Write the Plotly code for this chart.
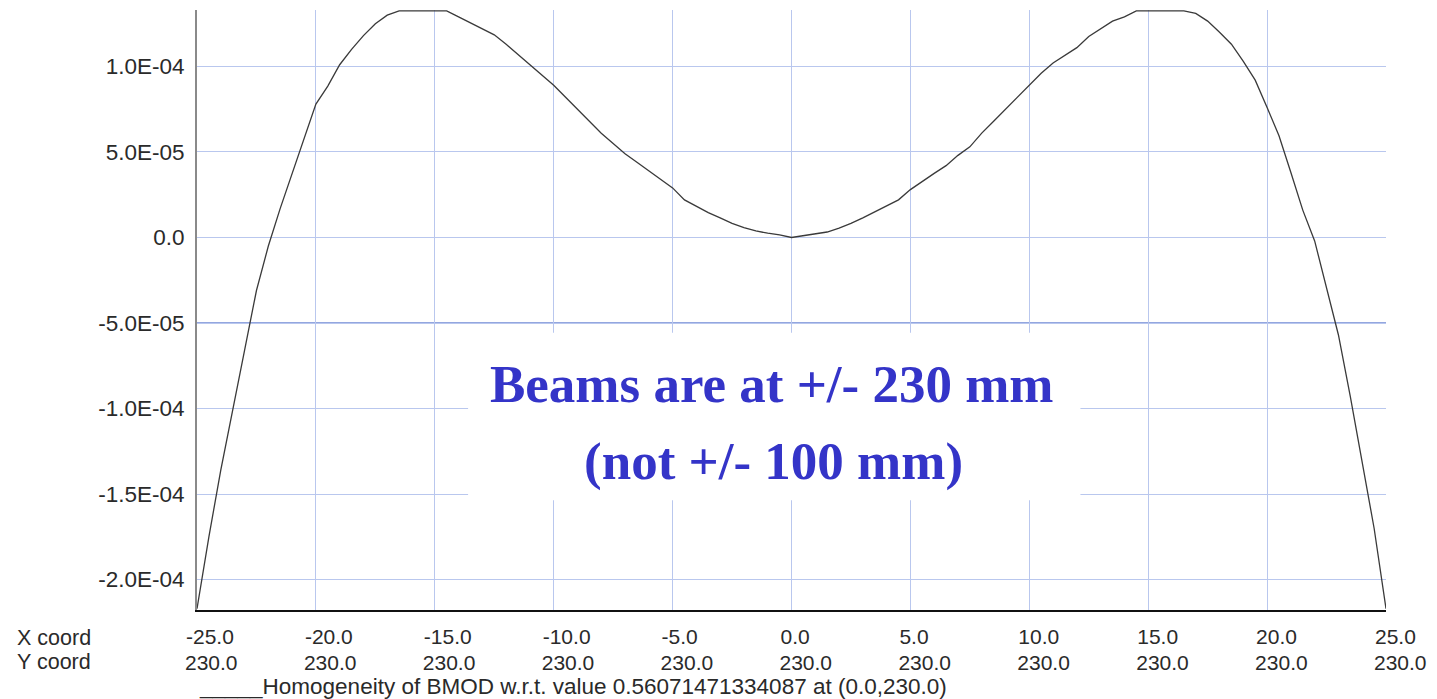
import plotly.graph_objects as go

# ---- data ----
x_pos = [-25, -24.5, -24, -23.5, -23, -22.5, -22, -21.5, -21, -20.5, -20, -19.5, -19, -18.5, -18,
         -17.5, -17, -16.5, -16, -15.5, -15, -14.5, -14, -13.5, -13, -12.5, -12, -11.5, -11, -10.5,
         -10, -9.5, -9, -8.5, -8, -7.5, -7, -6.5, -6, -5.5, -5, -4.5, -4, -3.5, -3, -2.5, -2, -1.5,
         -1, -0.5, 0, 0.5, 1, 1.5, 2, 2.5, 3, 3.5, 4, 4.5, 5, 5.5, 6, 6.5, 7, 7.5, 8, 8.5, 9, 9.5,
         10, 10.5, 11, 11.5, 12, 12.5, 13, 13.5, 14, 14.5, 15, 15.5, 16, 16.5, 17, 17.5, 18, 18.5,
         19, 19.5, 20, 20.5, 21, 21.5, 22, 22.5, 23, 23.5, 24, 24.5, 25]
homogeneity = [-2.17e-4, -1.75e-4, -1.36e-4, -1.0e-4, -6.6e-5, -3.1e-5, -5e-6, 1.7e-5, 3.75e-5, 5.8e-5,
               7.8e-5, 8.85e-5, 1.01e-4, 1.1e-4, 1.18e-4, 1.25e-4, 1.30e-4, 1.325e-4, 1.325e-4, 1.325e-4,
               1.325e-4, 1.325e-4, 1.29e-4, 1.255e-4, 1.22e-4, 1.185e-4, 1.13e-4, 1.07e-4, 1.01e-4, 9.5e-5,
               8.9e-5, 8.2e-5, 7.5e-5, 6.8e-5, 6.1e-5, 5.5e-5, 4.9e-5, 4.4e-5, 3.9e-5, 3.45e-5,
               2.9e-5, 2.2e-5, 1.8e-5, 1.45e-5, 1.15e-5, 8.2e-6, 5.8e-6, 3.8e-6, 2.5e-6, 1.5e-6,
               0.0, 1.2e-6, 2.0e-6, 3.2e-6, 5.5e-6, 8.2e-6, 1.15e-5, 1.5e-5, 1.85e-5, 2.2e-5,
               2.8e-5, 3.3e-5, 3.75e-5, 4.2e-5, 4.8e-5, 5.3e-5, 6.1e-5, 6.8e-5, 7.5e-5, 8.2e-5,
               8.9e-5, 9.6e-5, 1.02e-4, 1.065e-4, 1.11e-4, 1.175e-4, 1.22e-4, 1.265e-4, 1.29e-4, 1.325e-4,
               1.325e-4, 1.325e-4, 1.325e-4, 1.325e-4, 1.31e-4, 1.265e-4, 1.2e-4, 1.13e-4,
               1.03e-4, 9.2e-5, 7.6e-5, 5.95e-5, 3.8e-5, 1.6e-5, -2e-6, -3.0e-5, -5.7e-5, -9.3e-5,
               -1.31e-4, -1.7e-4, -2.17e-4]

x_ticks = [-25, -20, -15, -10, -5, 0, 5, 10, 15, 20, 25]
x_tick_text = ["-25.0", "-20.0", "-15.0", "-10.0", "-5.0", "0.0", "5.0", "10.0", "15.0", "20.0", "25.0"]
y_coord_text = ["230.0"] * 11
y_ticks = [1e-4, 5e-5, 0, -5e-5, -1e-4, -1.5e-4, -2e-4]
y_tick_text = ["1.0E-04", "5.0E-05", "0.0", "-5.0E-05", "-1.0E-04", "-1.5E-04", "-2.0E-04"]
highlight_level = -5e-5

series_label = "Homogeneity of BMOD w.r.t. value 0.56071471334087 at (0.0,230.0)"
note_line1 = "Beams are at +/- 230 mm"
note_line2 = "(not +/- 100 mm)"

X_RANGE = [-25, 25]
Y_RANGE = [-2.178e-4, 1.330e-4]
GRID = "#B9C7EE"
SANS = "Liberation Sans, Arial, sans-serif"
TICK_FONT = dict(family=SANS, size=22.5, color="#2a2a2a")
ROW_FONT = dict(family=SANS, size=21, color="#2a2a2a")
CAPTION_FONT = dict(family=SANS, size=21.5, color="#2a2a2a")
LABEL_FONT = dict(family=SANS, size=22.5, color="#2a2a2a")

fig = go.Figure()
fig.add_trace(go.Scatter(x=x_pos, y=homogeneity, mode="lines",
                         line=dict(color="#3a3a3a", width=1.3), name=series_label,
                         showlegend=False))
# helper trace so the second x-axis (Y coord row) is drawn
fig.add_trace(go.Scatter(x=x_ticks, y=[None] * len(x_ticks), xaxis="x2", mode="lines",
                         showlegend=False, hoverinfo="skip"))

fig.update_layout(
    width=1437, height=699,
    margin=dict(l=197, r=51, t=10, b=89),
    paper_bgcolor="white", plot_bgcolor="white",
    xaxis=dict(range=X_RANGE, tickvals=x_ticks, ticktext=x_tick_text,
               showgrid=True, gridcolor=GRID, gridwidth=1.3, zeroline=False,
               showline=True, linecolor="#111", linewidth=2, ticks="",
               ticklabelposition="outside right", ticklabelshift=-12,
               ticklabelstandoff=7, tickfont=ROW_FONT),
    xaxis2=dict(range=X_RANGE, overlaying="x", side="bottom", anchor="y",
                tickvals=x_ticks, ticktext=y_coord_text, showgrid=False,
                zeroline=False, showline=False, ticks="",
                ticklabelposition="outside right", ticklabelshift=-12,
                ticklabelstandoff=38, tickfont=ROW_FONT),
    yaxis=dict(range=Y_RANGE, tickvals=y_ticks, ticktext=y_tick_text,
               showgrid=True, gridcolor=GRID, gridwidth=1.3, zeroline=False,
               showline=True, linecolor="#8a8a8a", linewidth=2, ticks="",
               ticklabelstandoff=6, tickfont=TICK_FONT),
)

fig.add_shape(type="line", xref="paper", x0=0, x1=1, yref="y", y0=highlight_level, y1=highlight_level,
              line=dict(color="#93A6DF", width=2), layer="below")

# white box behind the note
fig.add_shape(type="rect", xref="paper", yref="paper", x0=0.228, x1=0.743, y0=0.183, y1=0.462,
              fillcolor="white", line=dict(width=0), layer="above")
note_font = dict(family="Liberation Serif, Times New Roman, serif", size=53, color="#3434C8")
fig.add_annotation(xref="paper", yref="paper", x=0.484, y=0.377, text="<b>%s</b>" % note_line1,
                   showarrow=False, font=note_font, xanchor="center", yanchor="middle")
fig.add_annotation(xref="paper", yref="paper", x=0.485, y=0.248, text="<b>%s</b>" % note_line2,
                   showarrow=False, font=note_font, xanchor="center", yanchor="middle")

# row captions and series label
fig.add_annotation(xref="paper", yref="paper", x=-0.1531, y=-0.0467, text="X coord",
                   showarrow=False, font=CAPTION_FONT, xanchor="left", yanchor="middle")
fig.add_annotation(xref="paper", yref="paper", x=-0.1531, y=-0.0867, text="Y coord",
                   showarrow=False, font=CAPTION_FONT, xanchor="left", yanchor="middle")
fig.add_annotation(xref="paper", yref="paper", x=0, y=-0.1283, text="_____" + series_label,
                   showarrow=False, font=LABEL_FONT, xanchor="left", yanchor="middle")

fig.write_html("out.html")
